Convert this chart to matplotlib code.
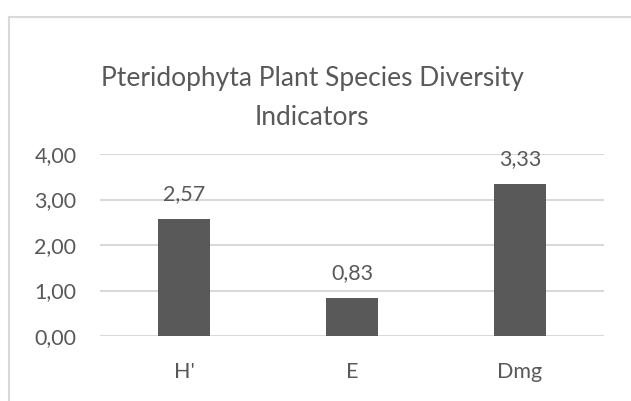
import matplotlib.pyplot as plt
from matplotlib.lines import Line2D

# Données
indicateurs = ["H'", "E", "Dmg"]
valeurs = [2.57, 0.83, 3.33]
graduations = [0, 1, 2, 3, 4]

gris_texte = '#595959'
gris_grille = '#d9d9d9'

plt.rcParams['font.family'] = ['Lato', 'DejaVu Sans']

fig = plt.figure(figsize=(6.31, 4.01), dpi=100)
ax = fig.add_axes([100 / 631, 65 / 401, 504 / 631, 182 / 401])

positions = range(len(indicateurs))
ax.bar(positions, valeurs, width=0.315, color='#595959', zorder=3)

# Etiquettes au-dessus des barres (virgule décimale)
for x, v in zip(positions, valeurs):
    ax.text(x, v + 0.33, f'{v:.2f}'.replace('.', ','), ha='center', va='bottom',
            fontsize=15.5, color=gris_texte)

ax.set_xlim(-0.5, 2.5)
ax.set_ylim(0, 4)
ax.set_yticks(graduations)
ax.set_yticklabels([f'{g:.2f}'.replace('.', ',') for g in graduations])
ax.set_xticks(list(positions))
ax.set_xticklabels(indicateurs)
ax.tick_params(axis='both', length=0, labelsize=15.5, labelcolor=gris_texte)
ax.tick_params(axis='y', pad=17)
ax.tick_params(axis='x', pad=19)
ax.yaxis.grid(True, color=gris_grille, linewidth=1.5, zorder=0)
for s in ax.spines.values():
    s.set_visible(False)

fig.text(312 / 631, 1 - 98 / 401, 'Pteridophyta Plant Species Diversity\nIndicators',
         ha='center', va='center', fontsize=19, color=gris_texte, linespacing=1.72)

# Bordure de la zone du graphique (coupée à droite et en bas)
fig.add_artist(Line2D([9 / 631, 9 / 631], [0, 1 - 17 / 401], transform=fig.transFigure,
                      color=gris_grille, linewidth=1.5))
fig.add_artist(Line2D([9 / 631, 1], [1 - 17 / 401, 1 - 17 / 401], transform=fig.transFigure,
                      color=gris_grille, linewidth=1.5))

fig.savefig('out.png', dpi=100)
